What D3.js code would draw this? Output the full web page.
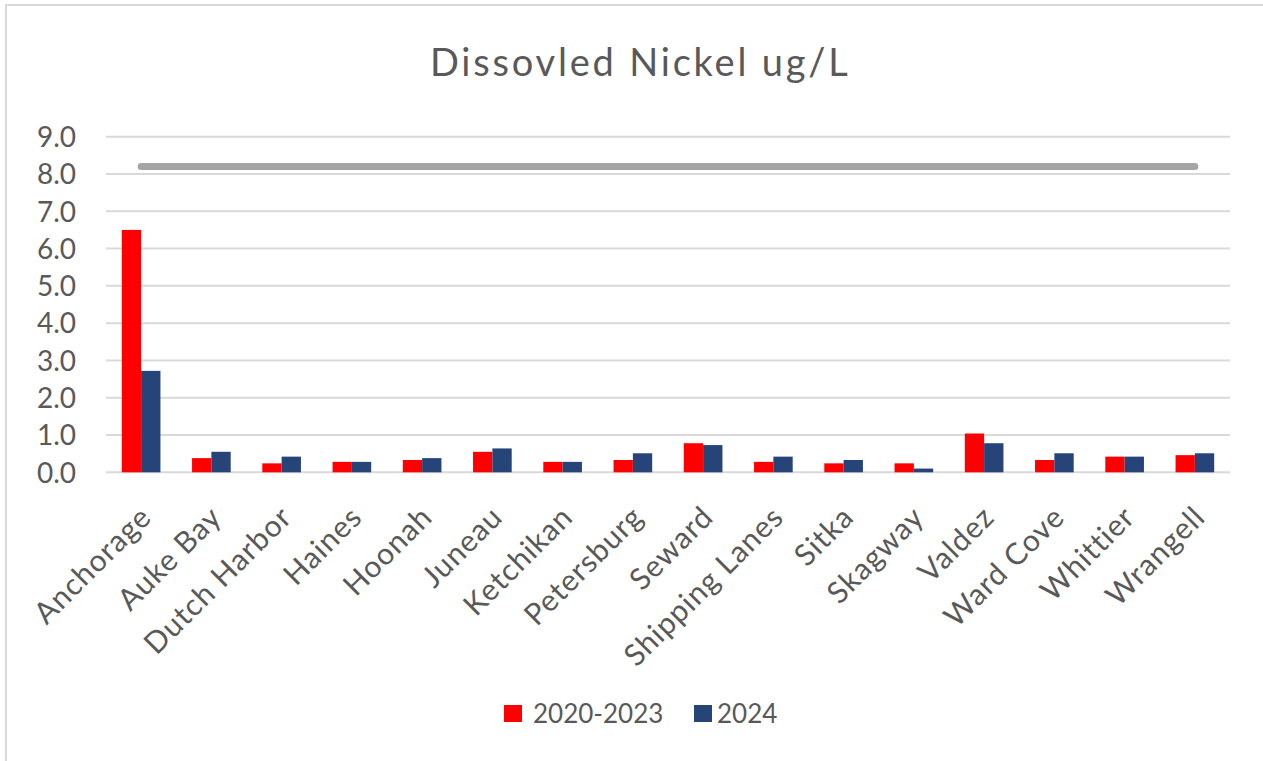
<!DOCTYPE html>
<html>
<head>
<meta charset="utf-8">
<script src="https://cdn.jsdelivr.net/npm/d3@7"></script>
<style>
  html, body { margin: 0; padding: 0; background: #ffffff; }
  svg { display: block; }
  text { font-family: Lato, "Open Sans", sans-serif; fill: #595959; }
</style>
</head>
<body>
<svg id="chart" width="1263" height="761"></svg>
<script>
// ---- data ----
const categories = ["Anchorage", "Auke Bay", "Dutch Harbor", "Haines", "Hoonah", "Juneau",
  "Ketchikan", "Petersburg", "Seward", "Shipping Lanes", "Sitka", "Skagway", "Valdez",
  "Ward Cove", "Whittier", "Wrangell"];
const series2020_2023 = [6.5, 0.38, 0.24, 0.28, 0.33, 0.55, 0.28, 0.33, 0.78, 0.28, 0.24, 0.24, 1.04, 0.33, 0.42, 0.46];
const series2024 = [2.72, 0.55, 0.42, 0.28, 0.38, 0.64, 0.28, 0.51, 0.73, 0.42, 0.33, 0.10, 0.78, 0.51, 0.42, 0.51];
const limitValues = [8.2, 8.2, 8.2, 8.2, 8.2, 8.2, 8.2, 8.2, 8.2, 8.2, 8.2, 8.2, 8.2, 8.2, 8.2, 8.2];
const seriesNames = ["2020-2023", "2024"];
const seriesColors = ["#ff0000", "#264478"];
const yTicks = [0, 1, 2, 3, 4, 5, 6, 7, 8, 9];
const title = "Dissovled Nickel ug/L";

// ---- layout ----
const svg = d3.select("#chart");
const plot = { left: 106, right: 1230, top: 136.7, bottom: 472.3 };

// outer frame
svg.append("rect")
  .attr("x", 6).attr("y", 5)
  .attr("width", 1300).attr("height", 800)
  .attr("fill", "none").attr("stroke", "#d9d9d9").attr("stroke-width", 2);

const x0 = d3.scaleBand().domain(categories)
  .range([plot.left, plot.right]).paddingInner(0.45).paddingOuter(0.225);
const x1 = d3.scaleBand().domain(seriesNames).range([0, x0.bandwidth()]).padding(0);
const y = d3.scaleLinear().domain([0, 9]).range([plot.bottom, plot.top]);

// gridlines
svg.append("g").selectAll("line").data(yTicks).join("line")
  .attr("x1", plot.left).attr("x2", plot.right)
  .attr("y1", d => y(d)).attr("y2", d => y(d))
  .attr("stroke", "#d9d9d9").attr("stroke-width", 2);

// y axis labels
const yAxis = d3.axisLeft(y).tickValues(yTicks).tickFormat(d3.format(".1f")).tickSize(0).tickPadding(0);
const yg = svg.append("g").attr("transform", `translate(76,0)`).call(yAxis);
yg.select(".domain").remove();
yg.selectAll("text").style("font-size", "28px").attr("fill", "#595959")
  .attr("font-family", "Lato, 'Open Sans', sans-serif").attr("dy", "0.35em");

// bars
const rows = categories.map((c, i) => ({ c, vals: [series2020_2023[i], series2024[i]] }));
const groups = svg.append("g").selectAll("g").data(rows).join("g")
  .attr("transform", d => `translate(${x0(d.c)},0)`);
groups.selectAll("rect").data(d => d.vals.map((v, j) => ({ v, s: seriesNames[j], col: seriesColors[j] })))
  .join("rect")
  .attr("x", d => x1(d.s)).attr("width", x1.bandwidth())
  .attr("y", d => y(d.v)).attr("height", d => y(0) - y(d.v))
  .attr("fill", d => d.col);

// limit line
const line = d3.line().x((d, i) => x0(categories[i]) + x0.bandwidth() / 2).y(d => y(d));
svg.append("path").datum(limitValues).attr("d", line)
  .attr("fill", "none").attr("stroke", "#a5a5a5").attr("stroke-width", 7)
  .attr("stroke-linecap", "round");

// category labels
svg.append("g").selectAll("text").data(categories).join("text")
  .attr("transform", d => `translate(${x0(d) + x0.bandwidth() / 2 + 12},519) rotate(-45)`)
  .attr("text-anchor", "end")
  .style("font-size", "30px")
  .style("letter-spacing", "1px")
  .text(d => d);

// title
svg.append("text").attr("x", 430).attr("y", 76).attr("text-anchor", "start")
  .style("font-size", "38px").style("letter-spacing", "2.8px").text(title);

// legend
const legend = svg.append("g");
const legendItems = [{ x: 504, tx: 533 }, { x: 694, tx: 717 }];
legendItems.forEach((it, j) => {
  legend.append("rect").attr("x", it.x).attr("y", 705).attr("width", 18).attr("height", 17)
    .attr("fill", seriesColors[j]);
  legend.append("text").attr("x", it.tx).attr("y", 723).style("font-size", "26px").text(seriesNames[j]);
});
</script>
</body>
</html>
